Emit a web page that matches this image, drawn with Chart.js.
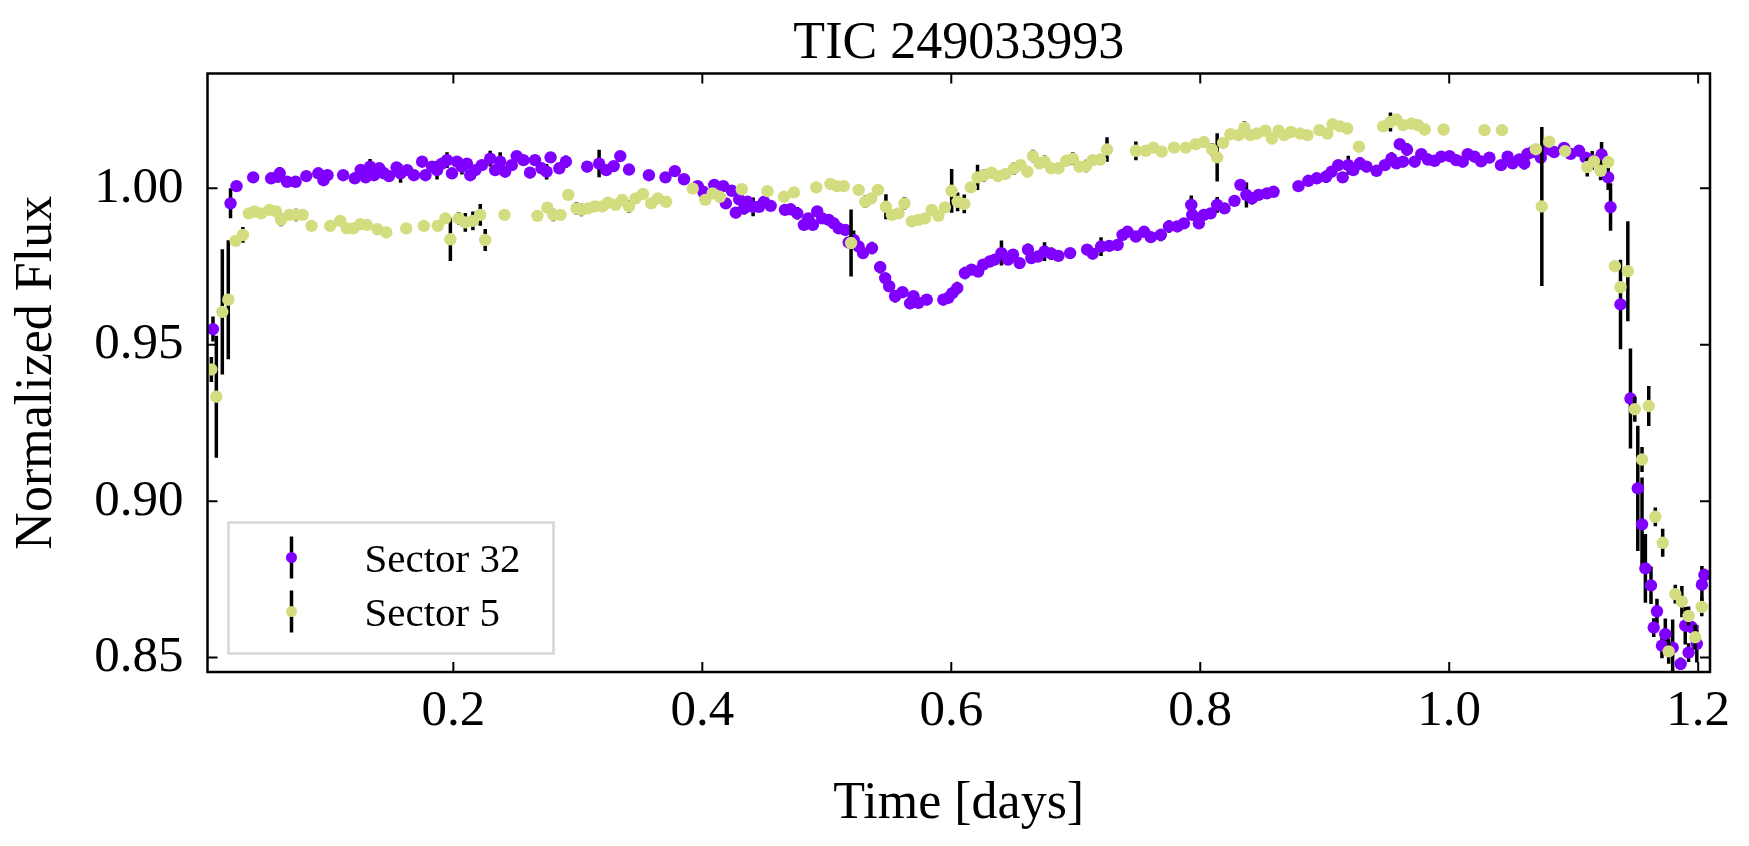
<!DOCTYPE html>
<html>
<head>
<meta charset="utf-8">
<script src="https://cdn.jsdelivr.net/npm/chart.js@4.4.0/dist/chart.umd.min.js"></script>
<style>
  html, body { margin: 0; padding: 0; background: #fff; }
  canvas { display: block; }
</style>
</head>
<body>
<canvas id="lc" width="1749" height="846"></canvas>
<script>
// ---- data ----
const titleText = "TIC 249033993";
const xTicks = [0.2, 0.4, 0.6, 0.8, 1.0, 1.2];
const yTicks = [0.85, 0.90, 0.95, 1.00];
const xRange = [0.0025, 1.2095];
const yRange = [0.8454, 1.0367];

const s32Time = [
  0.0069, 0.0210, 0.0258, 0.0392, 0.0536, 0.0590, 0.0605, 0.0664, 0.0733, 0.0819,
  0.0915, 0.0957, 0.0989, 0.1115, 0.1208, 0.1256, 0.1296, 0.1331, 0.1363, 0.1405,
  0.1443, 0.1483, 0.1544, 0.1576, 0.1629, 0.1683, 0.1749, 0.1776, 0.1829, 0.1869,
  0.1909, 0.1949, 0.1989, 0.2029, 0.2069, 0.2109, 0.2136, 0.2176, 0.2229, 0.2296,
  0.2336, 0.2376, 0.2416, 0.2469, 0.2509, 0.2563, 0.2616, 0.2656, 0.2709, 0.2749,
  0.2781, 0.2851, 0.2904, 0.3075, 0.3171, 0.3229, 0.3288, 0.3341, 0.3411, 0.3571,
  0.3704, 0.3779, 0.3853, 0.3963, 0.4008, 0.4096, 0.4168, 0.4189, 0.4237, 0.4269,
  0.4296, 0.4336, 0.4363, 0.4408, 0.4456, 0.4496, 0.4549, 0.4664, 0.4709, 0.4763,
  0.4816, 0.4851, 0.4888, 0.4923, 0.4963, 0.5016, 0.5056, 0.5096, 0.5149, 0.5176,
  0.5216, 0.5256, 0.5291, 0.5363, 0.5429, 0.5469, 0.5501, 0.5549, 0.5608, 0.5669,
  0.5696, 0.5736, 0.5803, 0.5936, 0.5976, 0.6008, 0.6048, 0.6109, 0.6163, 0.6216,
  0.6256, 0.6309, 0.6349, 0.6403, 0.6456, 0.6496, 0.6549, 0.6616, 0.6643, 0.6696,
  0.6749, 0.6803, 0.6861, 0.6955, 0.7091, 0.7136, 0.7203, 0.7269, 0.7336, 0.7376,
  0.7416, 0.7483, 0.7549, 0.7603, 0.7683, 0.7749, 0.7816, 0.7869, 0.7928, 0.7936,
  0.7989, 0.8029, 0.8083, 0.8136, 0.8195, 0.8275, 0.8323, 0.8371, 0.8416, 0.8469,
  0.8536, 0.8589, 0.8789, 0.8869, 0.8936, 0.9011, 0.9056, 0.9109, 0.9144, 0.9189,
  0.9229, 0.9283, 0.9336, 0.9416, 0.9483, 0.9536, 0.9576, 0.9603, 0.9629, 0.9661,
  0.9723, 0.9776, 0.9829, 0.9883, 0.9936, 1.0003, 1.0056, 1.0109, 1.0149, 1.0203,
  1.0256, 1.0323, 1.0416, 1.0469, 1.0509, 1.0563, 1.0603, 1.0629, 1.0669, 1.0736,
  1.0797, 1.0843, 1.0923, 1.0976, 1.1043, 1.1096, 1.1149, 1.1224, 1.1277, 1.1296,
  1.1376, 1.1456, 1.1515, 1.1549, 1.1576, 1.1621, 1.1643, 1.1669, 1.1709, 1.1736,
  1.1795, 1.1859, 1.1896, 1.1923, 1.1949, 1.1989, 1.2030, 1.2050
];
const s32Flux = [
  0.9550, 0.9952, 1.0007, 1.0035, 1.0032, 1.0037, 1.0048, 1.0021, 1.0021, 1.0039,
  1.0048, 1.0026, 1.0042, 1.0042, 1.0032, 1.0059, 1.0035, 1.0069, 1.0042, 1.0064,
  1.0048, 1.0039, 1.0067, 1.0048, 1.0058, 1.0042, 1.0085, 1.0042, 1.0069, 1.0058,
  1.0079, 1.0090, 1.0048, 1.0085, 1.0069, 1.0079, 1.0042, 1.0058, 1.0074, 1.0095,
  1.0058, 1.0085, 1.0053, 1.0074, 1.0103, 1.0090, 1.0050, 1.0090, 1.0064, 1.0053,
  1.0099, 1.0064, 1.0085, 1.0069, 1.0079, 1.0058, 1.0071, 1.0103, 1.0060, 1.0042,
  1.0035, 1.0055, 1.0029, 1.0007, 0.9989, 1.0011, 1.0007, 0.9952, 0.9992, 0.9922,
  0.9965, 0.9936, 0.9957, 0.9941, 0.9941, 0.9957, 0.9944, 0.9931, 0.9933, 0.9920,
  0.9883, 0.9904, 0.9883, 0.9926, 0.9904, 0.9899, 0.9888, 0.9872, 0.9867, 0.9827,
  0.9835, 0.9814, 0.9793, 0.9809, 0.9748, 0.9713, 0.9687, 0.9655, 0.9668, 0.9632,
  0.9655, 0.9634, 0.9644, 0.9644, 0.9650, 0.9665, 0.9681, 0.9729, 0.9740, 0.9734,
  0.9756, 0.9766, 0.9772, 0.9793, 0.9772, 0.9788, 0.9761, 0.9804, 0.9777, 0.9782,
  0.9798, 0.9791, 0.9784, 0.9793, 0.9804, 0.9791, 0.9814, 0.9816, 0.9819, 0.9851,
  0.9861, 0.9846, 0.9861, 0.9844, 0.9851, 0.9878, 0.9878, 0.9888, 0.9947, 0.9915,
  0.9888, 0.9915, 0.9920, 0.9947, 0.9936, 0.9960, 1.0011, 0.9979, 0.9968, 0.9979,
  0.9984, 0.9989, 1.0007, 1.0024, 1.0032, 1.0037, 1.0053, 1.0074, 1.0035, 1.0074,
  1.0058, 1.0080, 1.0069, 1.0056, 1.0074, 1.0095, 1.0080, 1.0141, 1.0085, 1.0124,
  1.0085, 1.0109, 1.0092, 1.0088, 1.0101, 1.0103, 1.0090, 1.0085, 1.0109, 1.0101,
  1.0086, 1.0098, 1.0074, 1.0101, 1.0080, 1.0092, 1.0080, 1.0110, 1.0116, 1.0098,
  1.0125, 1.0116, 1.0129, 1.0110, 1.0120, 1.0098, 1.0089, 1.0108, 1.0035, 0.9940,
  0.9629, 0.9328, 0.9041, 0.8926, 0.8785, 0.8731, 0.8596, 0.8648, 0.8538, 0.8575,
  0.8532, 0.8480, 0.8602, 0.8516, 0.8597, 0.8544, 0.8733, 0.8764
];
const s32Err = [
  0.0040, 0.0048, 0.0015, 0.0015, 0.0015, 0.0015, 0.0020, 0.0015, 0.0015, 0.0015,
  0.0015, 0.0015, 0.0015, 0.0015, 0.0015, 0.0015, 0.0015, 0.0025, 0.0015, 0.0015,
  0.0015, 0.0015, 0.0015, 0.0030, 0.0015, 0.0015, 0.0015, 0.0015, 0.0015, 0.0030,
  0.0015, 0.0025, 0.0015, 0.0015, 0.0025, 0.0015, 0.0015, 0.0015, 0.0015, 0.0025,
  0.0015, 0.0030, 0.0015, 0.0015, 0.0015, 0.0015, 0.0015, 0.0015, 0.0015, 0.0025,
  0.0015, 0.0015, 0.0020, 0.0015, 0.0044, 0.0015, 0.0015, 0.0015, 0.0015, 0.0015,
  0.0015, 0.0015, 0.0015, 0.0015, 0.0015, 0.0015, 0.0015, 0.0015, 0.0015, 0.0015,
  0.0015, 0.0020, 0.0015, 0.0030, 0.0015, 0.0015, 0.0015, 0.0015, 0.0015, 0.0020,
  0.0015, 0.0015, 0.0015, 0.0015, 0.0015, 0.0015, 0.0015, 0.0015, 0.0015, 0.0015,
  0.0030, 0.0015, 0.0015, 0.0020, 0.0020, 0.0015, 0.0015, 0.0020, 0.0015, 0.0015,
  0.0015, 0.0015, 0.0015, 0.0015, 0.0015, 0.0015, 0.0020, 0.0020, 0.0015, 0.0015,
  0.0015, 0.0015, 0.0015, 0.0040, 0.0015, 0.0015, 0.0015, 0.0020, 0.0015, 0.0015,
  0.0030, 0.0020, 0.0015, 0.0015, 0.0015, 0.0015, 0.0030, 0.0015, 0.0015, 0.0015,
  0.0015, 0.0015, 0.0015, 0.0015, 0.0020, 0.0020, 0.0015, 0.0015, 0.0030, 0.0015,
  0.0015, 0.0015, 0.0015, 0.0025, 0.0015, 0.0015, 0.0015, 0.0040, 0.0020, 0.0015,
  0.0015, 0.0015, 0.0015, 0.0015, 0.0015, 0.0020, 0.0015, 0.0015, 0.0015, 0.0030,
  0.0015, 0.0020, 0.0015, 0.0015, 0.0015, 0.0020, 0.0015, 0.0015, 0.0015, 0.0020,
  0.0015, 0.0015, 0.0015, 0.0015, 0.0015, 0.0015, 0.0015, 0.0015, 0.0015, 0.0015,
  0.0015, 0.0015, 0.0015, 0.0015, 0.0015, 0.0015, 0.0020, 0.0015, 0.0015, 0.0015,
  0.0015, 0.0015, 0.0015, 0.0015, 0.0015, 0.0015, 0.0030, 0.0040, 0.0040, 0.0076,
  0.0143, 0.0160, 0.0200, 0.0150, 0.0110, 0.0060, 0.0030, 0.0040, 0.0040, 0.0050,
  0.0090, 0.0020, 0.0060, 0.0030, 0.0020, 0.0060, 0.0060, 0.0020
];

const s5Time = [
  0.0056, 0.0096, 0.0144, 0.0192, 0.0251, 0.0309, 0.0357, 0.0403, 0.0456, 0.0523,
  0.0576, 0.0616, 0.0683, 0.0736, 0.0789, 0.0861, 0.1011, 0.1091, 0.1144, 0.1197,
  0.1251, 0.1304, 0.1390, 0.1461, 0.1621, 0.1763, 0.1875, 0.1936, 0.1976, 0.2043,
  0.2096, 0.2157, 0.2216, 0.2256, 0.2411, 0.2675, 0.2755, 0.2803, 0.2861, 0.2923,
  0.2989, 0.3029, 0.3083, 0.3136, 0.3197, 0.3243, 0.3304, 0.3357, 0.3411, 0.3464,
  0.3523, 0.3589, 0.3643, 0.3709, 0.3923, 0.4024, 0.4083, 0.4141, 0.4317, 0.4523,
  0.4656, 0.4736, 0.4915, 0.5029, 0.5083, 0.5136, 0.5195, 0.5256, 0.5309, 0.5357,
  0.5411, 0.5475, 0.5523, 0.5576, 0.5624, 0.5683, 0.5736, 0.5789, 0.5843, 0.5896,
  0.5949, 0.6003, 0.6051, 0.6104, 0.6157, 0.6211, 0.6264, 0.6323, 0.6376, 0.6435,
  0.6504, 0.6557, 0.6611, 0.6656, 0.6709, 0.6749, 0.6803, 0.6861, 0.6923, 0.6976,
  0.7029, 0.7083, 0.7136, 0.7197, 0.7251, 0.7483, 0.7563, 0.7624, 0.7691, 0.7789,
  0.7883, 0.7963, 0.8029, 0.8096, 0.8136, 0.8184, 0.8243, 0.8309, 0.8355, 0.8403,
  0.8456, 0.8523, 0.8576, 0.8629, 0.8675, 0.8728, 0.8803, 0.8861, 0.8957, 0.9021,
  0.9064, 0.9123, 0.9181, 0.9275, 0.9469, 0.9528, 0.9576, 0.9629, 0.9696, 0.9749,
  0.9803, 0.9955, 1.0283, 1.0424, 1.0696, 1.0744, 1.0803, 1.0931, 1.1109, 1.1163,
  1.1216, 1.1277, 1.1331, 1.1376, 1.1435, 1.1491, 1.1549, 1.1603, 1.1656, 1.1715,
  1.1763, 1.1816, 1.1869, 1.1923, 1.1976, 1.2029
];
const s5Flux = [
  0.9421, 0.9334, 0.9605, 0.9644, 0.9832, 0.9851, 0.9920, 0.9926, 0.9920, 0.9931,
  0.9926, 0.9899, 0.9915, 0.9915, 0.9915, 0.9880, 0.9880, 0.9896, 0.9872, 0.9872,
  0.9885, 0.9883, 0.9869, 0.9859, 0.9872, 0.9880, 0.9880, 0.9904, 0.9837, 0.9904,
  0.9891, 0.9896, 0.9915, 0.9835, 0.9915, 0.9912, 0.9938, 0.9915, 0.9915, 0.9979,
  0.9936, 0.9931, 0.9936, 0.9942, 0.9942, 0.9954, 0.9947, 0.9963, 0.9942, 0.9968,
  0.9982, 0.9952, 0.9968, 0.9957, 0.9999, 0.9963, 0.9984, 0.9973, 0.9997, 0.9991,
  0.9973, 0.9987, 1.0003, 1.0014, 1.0007, 1.0007, 0.9825, 0.9995, 0.9957, 0.9968,
  0.9995, 0.9941, 0.9915, 0.9920, 0.9952, 0.9894, 0.9899, 0.9904, 0.9931, 0.9912,
  0.9939, 0.9992, 0.9957, 0.9950, 1.0003, 1.0035, 1.0042, 1.0050, 1.0039, 1.0046,
  1.0064, 1.0074, 1.0053, 1.0103, 1.0080, 1.0085, 1.0064, 1.0064, 1.0088, 1.0095,
  1.0069, 1.0071, 1.0090, 1.0092, 1.0124, 1.0120, 1.0120, 1.0130, 1.0117, 1.0130,
  1.0130, 1.0141, 1.0148, 1.0124, 1.0099, 1.0145, 1.0173, 1.0170, 1.0194, 1.0170,
  1.0175, 1.0184, 1.0159, 1.0184, 1.0170, 1.0180, 1.0175, 1.0170, 1.0186, 1.0175,
  1.0205, 1.0198, 1.0191, 1.0133, 1.0198, 1.0212, 1.0220, 1.0202, 1.0207, 1.0202,
  1.0188, 1.0188, 1.0186, 1.0186, 1.0125, 0.9942, 1.0149, 1.0119, 1.0068, 1.0086,
  1.0056, 1.0084, 0.9751, 0.9684, 0.9735, 0.9294, 0.9133, 0.9304, 0.8950, 0.8867,
  0.8520, 0.8703, 0.8679, 0.8633, 0.8565, 0.8662
];
const s5Err = [
  0.0040, 0.0195, 0.0200, 0.0190, 0.0015, 0.0025, 0.0015, 0.0015, 0.0015, 0.0015,
  0.0015, 0.0020, 0.0015, 0.0020, 0.0015, 0.0015, 0.0015, 0.0015, 0.0015, 0.0015,
  0.0015, 0.0015, 0.0015, 0.0015, 0.0015, 0.0015, 0.0015, 0.0015, 0.0069, 0.0020,
  0.0030, 0.0030, 0.0035, 0.0035, 0.0015, 0.0015, 0.0015, 0.0020, 0.0015, 0.0015,
  0.0020, 0.0020, 0.0015, 0.0015, 0.0015, 0.0015, 0.0015, 0.0015, 0.0020, 0.0015,
  0.0015, 0.0015, 0.0015, 0.0015, 0.0015, 0.0015, 0.0015, 0.0015, 0.0015, 0.0015,
  0.0015, 0.0015, 0.0015, 0.0015, 0.0015, 0.0015, 0.0107, 0.0015, 0.0020, 0.0015,
  0.0015, 0.0040, 0.0015, 0.0015, 0.0020, 0.0015, 0.0015, 0.0015, 0.0015, 0.0015,
  0.0015, 0.0070, 0.0030, 0.0030, 0.0015, 0.0040, 0.0020, 0.0015, 0.0015, 0.0015,
  0.0020, 0.0015, 0.0015, 0.0020, 0.0015, 0.0020, 0.0015, 0.0015, 0.0015, 0.0020,
  0.0015, 0.0020, 0.0015, 0.0015, 0.0039, 0.0030, 0.0015, 0.0015, 0.0015, 0.0015,
  0.0015, 0.0015, 0.0015, 0.0020, 0.0077, 0.0015, 0.0015, 0.0015, 0.0020, 0.0015,
  0.0015, 0.0015, 0.0015, 0.0015, 0.0015, 0.0015, 0.0015, 0.0015, 0.0015, 0.0015,
  0.0015, 0.0015, 0.0015, 0.0015, 0.0015, 0.0030, 0.0015, 0.0015, 0.0015, 0.0015,
  0.0015, 0.0015, 0.0015, 0.0015, 0.0015, 0.0254, 0.0015, 0.0015, 0.0030, 0.0015,
  0.0030, 0.0015, 0.0015, 0.0015, 0.0160, 0.0040, 0.0040, 0.0064, 0.0030, 0.0045,
  0.0040, 0.0030, 0.0050, 0.0030, 0.0040, 0.0030
];

const seriesNames = ["Sector 32", "Sector 5"];
const seriesColors = ["#8000ff", "#d4dc80"];
const seriesErr = [s32Err, s5Err];

const serif = "'Liberation Serif', 'DejaVu Serif', serif";

// vertical error bars, drawn under each dataset's own markers
const errorBars = {
  id: "errorBars",
  beforeDatasetDraw(chart, args) {
    const errs = seriesErr[args.index];
    const pts = chart.data.datasets[args.index].data;
    const {x: xs, y: ys} = chart.scales;
    const a = chart.chartArea;
    const ctx = chart.ctx;
    ctx.save();
    ctx.beginPath();
    ctx.rect(a.left, a.top, a.right - a.left, a.bottom - a.top);
    ctx.clip();
    ctx.beginPath();
    pts.forEach((p, i) => {
      const px = xs.getPixelForValue(p.x);
      ctx.moveTo(px, ys.getPixelForValue(p.y + errs[i]));
      ctx.lineTo(px, ys.getPixelForValue(p.y - errs[i]));
    });
    ctx.strokeStyle = "#000";
    ctx.lineWidth = 3.5;
    ctx.stroke();
    ctx.restore();
  }
};

// frame, inward ticks, title and legend (matplotlib look)
const decorations = {
  id: "decorations",
  afterDatasetsDraw(chart) {
    const ctx = chart.ctx;
    const a = chart.chartArea;
    const {x: xs, y: ys} = chart.scales;
    ctx.save();
    ctx.strokeStyle = "#000";
    ctx.lineWidth = 2;
    ctx.beginPath();
    xTicks.forEach(v => {
      const px = xs.getPixelForValue(v);
      ctx.moveTo(px, a.bottom); ctx.lineTo(px, a.bottom - 10);
      ctx.moveTo(px, a.top); ctx.lineTo(px, a.top + 10);
    });
    yTicks.forEach(v => {
      const py = ys.getPixelForValue(v);
      ctx.moveTo(a.left, py); ctx.lineTo(a.left + 10, py);
      ctx.moveTo(a.right, py); ctx.lineTo(a.right - 10, py);
    });
    ctx.stroke();
    ctx.lineWidth = 2.5;
    ctx.strokeRect(a.left, a.top, a.right - a.left, a.bottom - a.top);

    // title
    ctx.fillStyle = "#000";
    ctx.font = "52px " + serif;
    ctx.textAlign = "center";
    ctx.textBaseline = "alphabetic";
    ctx.fillText(titleText, (a.left + a.right) / 2, 58);

    // legend
    const lx = a.left + 21, ly = a.top + 449, lw = 325, lh = 131;
    ctx.fillStyle = "#fff";
    ctx.fillRect(lx, ly, lw, lh);
    ctx.strokeStyle = "#d6d6d6";
    ctx.lineWidth = 2.5;
    ctx.strokeRect(lx, ly, lw, lh);
    seriesNames.forEach((name, i) => {
      const cy = ly + 35 + i * 54;
      const mx = lx + 63;
      ctx.strokeStyle = "#000";
      ctx.lineWidth = 3.5;
      ctx.beginPath();
      ctx.moveTo(mx, cy - 21); ctx.lineTo(mx, cy + 21);
      ctx.stroke();
      ctx.fillStyle = seriesColors[i];
      ctx.beginPath();
      ctx.arc(mx, cy, 5.5, 0, Math.PI * 2);
      ctx.fill();
      ctx.fillStyle = "#000";
      ctx.font = "41px " + serif;
      ctx.textAlign = "left";
      ctx.textBaseline = "alphabetic";
      ctx.fillText(name, lx + 136, cy + 14);
    });
    ctx.restore();
  }
};

const datasets = [
  {
    label: seriesNames[0],
    data: s32Time.map((t, i) => ({x: t, y: s32Flux[i]})),
    backgroundColor: seriesColors[0],
    order: 2
  },
  {
    label: seriesNames[1],
    data: s5Time.map((t, i) => ({x: t, y: s5Flux[i]})),
    backgroundColor: seriesColors[1],
    order: 1
  }
];
datasets.forEach(d => {
  d.pointRadius = 6.2;
  d.pointHoverRadius = 6.2;
  d.pointBorderWidth = 0;
  d.borderWidth = 0;
  d.showLine = false;
});

const tickFont = {family: serif, size: 51};
const labelFont = {family: serif, size: 52};

new Chart(document.getElementById("lc"), {
  type: "scatter",
  data: {datasets},
  options: {
    responsive: false,
    devicePixelRatio: 1,
    animation: false,
    events: [],
    layout: {padding: {top: 73.5, right: 39, left: 0, bottom: 0}},
    plugins: {
      legend: {display: false},
      tooltip: {enabled: false},
      title: {display: false}
    },
    scales: {
      x: {
        type: "linear",
        min: xRange[0],
        max: xRange[1],
        afterBuildTicks: s => { s.ticks = xTicks.map(v => ({value: v})); },
        afterFit: s => { s.height = 174; },
        grid: {display: false, drawTicks: false},
        border: {display: false},
        ticks: {
          color: "#000", font: tickFont, padding: 9.5,
          maxRotation: 0, autoSkip: false,
          callback: v => Number(v).toFixed(1)
        },
        title: {
          display: true, text: "Time [days]", color: "#000",
          font: labelFont, padding: {top: 0, bottom: 10}
        }
      },
      y: {
        type: "linear",
        min: yRange[0],
        max: yRange[1],
        afterBuildTicks: s => { s.ticks = yTicks.map(v => ({value: v})); },
        afterFit: s => { s.width = 207.5; },
        grid: {display: false, drawTicks: false},
        border: {display: false},
        ticks: {
          color: "#000", font: tickFont, padding: 24,
          autoSkip: false,
          callback: v => Number(v).toFixed(2)
        },
        title: {
          display: true, text: "Normalized Flux", color: "#000",
          font: labelFont, padding: {top: 6, bottom: 0}
        }
      }
    }
  },
  plugins: [errorBars, decorations]
});
</script>
</body>
</html>
